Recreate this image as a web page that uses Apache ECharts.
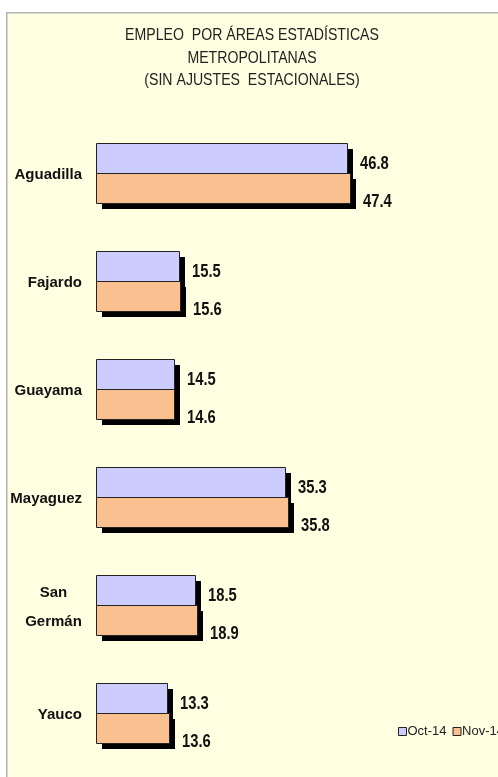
<!DOCTYPE html>
<html>
<head>
<meta charset="utf-8">
<script src="https://cdn.jsdelivr.net/npm/echarts@6/dist/echarts.min.js"></script>
<style>
html,body{margin:0;padding:0;background:#fff;}
#chart{width:498px;height:777px;}
</style>
</head>
<body>
<div id="chart"></div>
<script>
const categories = ['Aguadilla', 'Fajardo', 'Guayama', 'Mayaguez', 'San Germán', 'Yauco'];
const oct14 = [46.8, 15.5, 14.5, 35.3, 18.5, 13.3];
const nov14 = [47.4, 15.6, 14.6, 35.8, 18.9, 13.6];
const seriesNames = ['Oct-14', 'Nov-14'];
const titleLines = ['EMPLEO  POR ÁREAS ESTADÍSTICAS', 'METROPOLITANAS', '(SIN AJUSTES  ESTACIONALES)'];

const FF = "'Liberation Sans', Arial, sans-serif";
const chart = echarts.init(document.getElementById('chart'), null, {renderer: 'canvas'});

function makeRender(color, slot, dy) {
  return function (params, api) {
    const val = api.value(0);
    const idx = api.value(1);
    const p0 = api.coord([0, idx]);
    const p1 = api.coord([val, idx]);
    const h = Math.round(api.size([0, 1])[1] * 0.278);
    const y = Math.round(p0[1]) + (slot === 0 ? -h : 0);
    const x = Math.round(p0[0]);
    const w = Math.round(p1[0]) - x;
    return {
      type: 'group',
      children: [
        {type: 'rect', shape: {x: x + 6, y: y + 6, width: w, height: h}, style: {fill: '#000'}},
        {type: 'rect', shape: {x: x + 0.5, y: y + 0.5, width: w, height: h}, style: {fill: color, stroke: '#222', lineWidth: 1}},
        {type: 'text', x: x + w + 13, y: y + h / 2 + dy, scaleX: 0.82,
          style: {text: val.toFixed(1), fill: '#111', font: 'bold 18px ' + FF, verticalAlign: 'middle', align: 'left'}}
      ]
    };
  };
}

const titleY = [35, 58, 80];
const titleGraphics = titleLines.map((t, i) => ({
  type: 'text',
  x: 252,
  y: titleY[i],
  scaleX: 0.83,
  style: {text: t, fill: '#222', font: '17px ' + FF, align: 'center', verticalAlign: 'middle'}
}));

chart.setOption({
  backgroundColor: '#fff',
  animation: false,
  graphic: [{
    type: 'rect',
    left: 6, top: 12, z: -10,
    shape: {width: 500, height: 780},
    style: {fill: '#FFFFE1', stroke: '#B4B4B4', lineWidth: 1.5}
  }].concat(titleGraphics),
  legend: {
    data: seriesNames,
    left: 393,
    top: 720,
    width: 300,
    orient: 'horizontal',
    itemWidth: 8,
    itemHeight: 8,
    itemGap: 6,
    icon: 'rect',
    itemStyle: {borderColor: '#222', borderWidth: 1},
    textStyle: {fontFamily: FF, fontSize: 13, color: '#222', padding: [0, 0, 0, -4]}
  },
  grid: {left: 96, right: 0, top: 119, bottom: 10, containLabel: false, outerBoundsMode: 'none'},
  xAxis: {
    type: 'value', min: 0, max: 75, show: false
  },
  yAxis: {
    type: 'category',
    data: categories,
    inverse: true,
    axisLine: {show: false},
    axisTick: {show: false},
    splitLine: {show: false},
    axisLabel: {
      margin: 14,
      padding: [4, 0, 0, 0],
      fontFamily: FF,
      fontWeight: 'bold',
      fontSize: 15,
      color: '#111',
      formatter: (v) => {
        if (v.indexOf(' ') > 0) {
          return v.split(' ').map(s => '{c|' + s + '}').join('\n');
        }
        return v;
      },
      rich: {
        c: {width: 57, align: 'center', fontFamily: FF, fontWeight: 'bold', fontSize: 15, color: '#111', lineHeight: 29}
      }
    }
  },
  series: [{
    name: seriesNames[0],
    type: 'custom',
    renderItem: makeRender('#CCCCFF', 0, 6),
    encode: {x: 0, y: 1},
    itemStyle: {color: '#CCCCFF'},
    data: oct14.map((v, i) => [v, i])
  }, {
    name: seriesNames[1],
    type: 'custom',
    renderItem: makeRender('#FAC090', 1, 14),
    encode: {x: 0, y: 1},
    itemStyle: {color: '#FAC090'},
    data: nov14.map((v, i) => [v, i])
  }]
});
</script>
</body>
</html>
